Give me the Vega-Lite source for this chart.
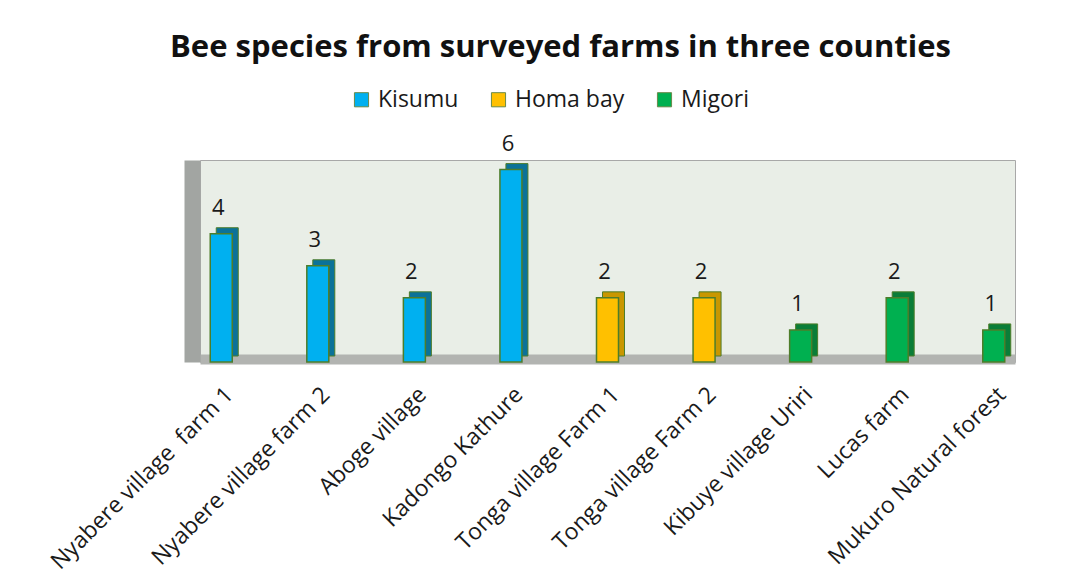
{
  "$schema": "https://vega.github.io/schema/vega-lite/v6.json",
  "autosize": {"type": "none"},
  "padding": {"left": 200, "top": 160, "right": 56, "bottom": 219},
  "width": 815,
  "height": 202,
  "background": "white",
  "title": {
    "text": "Bee species from surveyed farms in three counties",
    "font": "Open Sans",
    "fontSize": 31,
    "fontWeight": "bold",
    "color": "#111111",
    "anchor": "middle",
    "dx": -47,
    "offset": 24
  },
  "data": {
    "values": [
      {"farm": "Nyabere village\u00a0 farm 1", "county": "Kisumu", "species": 4},
      {"farm": "Nyabere village farm 2", "county": "Kisumu", "species": 3},
      {"farm": "Aboge village", "county": "Kisumu", "species": 2},
      {"farm": "Kadongo Kathure", "county": "Kisumu", "species": 6},
      {"farm": "Tonga village Farm 1", "county": "Homa bay", "species": 2},
      {"farm": "Tonga village Farm 2", "county": "Homa bay", "species": 2},
      {"farm": "Kibuye village Uriri", "county": "Migori", "species": 1},
      {"farm": "Lucas farm", "county": "Migori", "species": 2},
      {"farm": "Mukuro Natural forest", "county": "Migori", "species": 1}
    ]
  },
  "encoding": {
    "x": {
      "field": "farm",
      "type": "nominal",
      "sort": null,
      "scale": {"type": "point", "padding": 0.22},
      "axis": {
        "title": null,
        "ticks": false,
        "domain": true,
        "domainColor": "#b2b4b1",
        "domainWidth": 10,
        "offset": -3,
        "labelAngle": -45,
        "labelFont": "Open Sans",
        "labelFontSize": 23,
        "labelColor": "#1a1a1a",
        "labelPadding": 24,
        "labelLimit": 400
      }
    },
    "y": {
      "field": "species",
      "type": "quantitative",
      "scale": {"domain": [0, 6.3], "nice": false},
      "axis": {
        "title": null,
        "labels": false,
        "ticks": false,
        "grid": false,
        "domain": true,
        "domainColor": "#a2a5a2",
        "domainWidth": 16,
        "offset": 8
      }
    }
  },
  "layer": [
    {
      "mark": {"type": "bar", "width": 22, "xOffset": 6, "yOffset": -6, "stroke": "#4e7d2a", "strokeWidth": 1},
      "encoding": {
        "color": {
          "field": "county",
          "type": "nominal",
          "scale": {"domain": ["Kisumu", "Homa bay", "Migori"], "range": ["#0b7299", "#c99700", "#0a7d38"]},
          "legend": null
        }
      }
    },
    {
      "mark": {"type": "bar", "width": 22, "stroke": "#4e7d2a", "strokeWidth": 1.5},
      "encoding": {
        "color": {
          "field": "county",
          "type": "nominal",
          "scale": {"domain": ["Kisumu", "Homa bay", "Migori"], "range": ["#00b0f0", "#ffc000", "#00b050"]},
          "legend": {
            "title": null,
            "orient": "none",
            "direction": "horizontal",
            "legendX": 150,
            "legendY": -72,
            "symbolType": "square",
            "symbolSize": 200,
            "symbolStrokeColor": "#6a8a4a",
            "symbolStrokeWidth": 1,
            "labelFont": "Open Sans",
            "labelFontSize": 23,
            "labelColor": "#1a1a1a",
            "columnPadding": 28,
            "symbolOffset": 0,
            "labelOffset": 5
          }
        }
      }
    },
    {
      "mark": {"type": "text", "font": "Open Sans", "fontSize": 22, "color": "#1a1a1a", "baseline": "bottom", "dy": -14, "dx": -3},
      "encoding": {
        "text": {"field": "species", "type": "quantitative"}
      }
    }
  ],
  "resolve": {"scale": {"color": "independent"}},
  "config": {
    "view": {"fill": "#e9eee7", "stroke": "#a8a8a8", "strokeWidth": 1}
  }
}
